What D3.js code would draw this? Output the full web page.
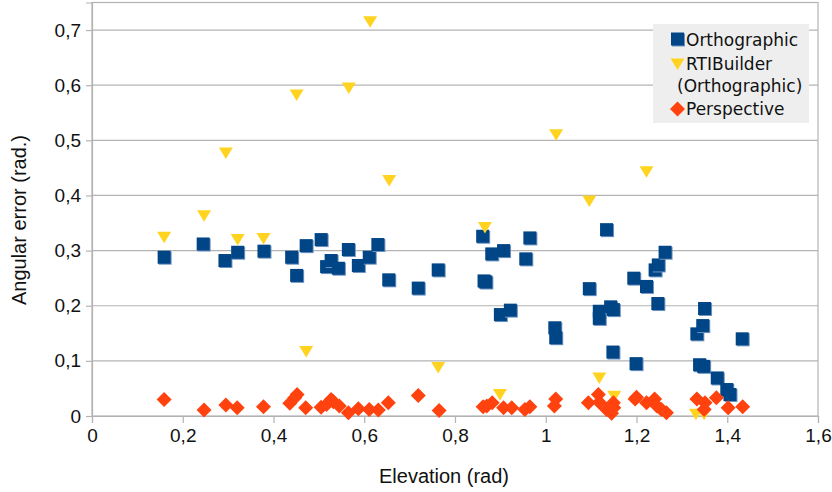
<!DOCTYPE html>
<html>
<head>
<meta charset="utf-8">
<script src="https://cdn.jsdelivr.net/npm/d3@7"></script>
<style>
  body { margin: 0; background: #fff; }
  svg text { font-family: "Liberation Sans", Arial, sans-serif; fill: #111; }
  .legend text { font-family: "DejaVu Sans", sans-serif; }
</style>
</head>
<body>
<div id="chart"></div>
<script>
let width = 832;
let height = 492;
let margin = { top: 2.5, right: 14, bottom: 76, left: 92 };

// Orthographic (squares)
let orthoX = [0.159, 0.245, 0.293, 0.321, 0.379, 0.440, 0.451, 0.472, 0.505, 0.517,
  0.527, 0.543, 0.565, 0.587, 0.611, 0.630, 0.654, 0.719, 0.763, 0.861,
  0.864, 0.868, 0.881, 0.907, 0.956, 0.965, 0.900, 0.922, 1.020, 1.022,
  1.096, 1.118, 1.118, 1.134, 1.143, 1.149, 1.148, 1.194, 1.199, 1.222,
  1.241, 1.248, 1.263, 1.247, 1.333, 1.346, 1.350, 1.339, 1.348, 1.378,
  1.399, 1.406, 1.433];
let orthoY = [0.288, 0.312, 0.282, 0.297, 0.299, 0.288, 0.255, 0.309, 0.320, 0.271,
  0.282, 0.268, 0.302, 0.273, 0.288, 0.311, 0.247, 0.232, 0.265, 0.326,
  0.245, 0.243, 0.294, 0.300, 0.285, 0.323, 0.184, 0.192, 0.160, 0.142,
  0.231, 0.190, 0.177, 0.338, 0.198, 0.193, 0.116, 0.250, 0.095, 0.235,
  0.265, 0.274, 0.297, 0.204, 0.149, 0.164, 0.195, 0.093, 0.090, 0.069,
  0.048, 0.039, 0.140];

// RTIBuilder (Orthographic) (triangles)
let rtiX = [0.159, 0.247, 0.295, 0.321, 0.378, 0.451, 0.472, 0.566, 0.613, 0.655,
  0.763, 0.866, 0.899, 1.023, 1.096, 1.118, 1.151, 1.222, 1.331, 1.349];
let rtiY = [0.324, 0.363, 0.477, 0.320, 0.322, 0.582, 0.117, 0.595, 0.715, 0.427,
  0.088, 0.342, 0.039, 0.510, 0.390, 0.069, 0.036, 0.443, 0.003, 0.003];

// Perspective (diamonds)
let perspX = [0.159, 0.247, 0.295, 0.320, 0.378, 0.436, 0.447, 0.452, 0.471, 0.505,
  0.517, 0.527, 0.532, 0.545, 0.565, 0.587, 0.611, 0.631, 0.653, 0.719,
  0.765, 0.862, 0.870, 0.882, 0.907, 0.925, 0.954, 0.965, 1.019, 1.022,
  1.094, 1.116, 1.118, 1.134, 1.145, 1.149, 1.150, 1.197, 1.200, 1.222,
  1.240, 1.245, 1.255, 1.266, 1.333, 1.351, 1.349, 1.376, 1.402, 1.434];
let perspY = [0.030, 0.011, 0.020, 0.015, 0.017, 0.023, 0.033, 0.039, 0.015, 0.016,
  0.021, 0.030, 0.026, 0.018, 0.006, 0.013, 0.012, 0.011, 0.024, 0.037,
  0.010, 0.017, 0.018, 0.024, 0.015, 0.015, 0.012, 0.017, 0.018, 0.031,
  0.024, 0.039, 0.025, 0.012, 0.005, 0.024, 0.015, 0.031, 0.034, 0.024,
  0.031, 0.018, 0.012, 0.006, 0.031, 0.024, 0.012, 0.033, 0.015, 0.017];

let xTicks = [0, 0.2, 0.4, 0.6, 0.8, 1, 1.2, 1.4, 1.6];
let yTicks = [0, 0.1, 0.2, 0.3, 0.4, 0.5, 0.6, 0.7];

let colors = { Orthographic: "#004586", RTIBuilder: "#ffd320", Perspective: "#ff420e" };
let fmt = d => String(d).replace(".", ",");

let svg = d3.select("#chart")
  .append("svg")
  .attr("width", width)
  .attr("height", height);

let x = d3.scaleLinear()
  .domain([0, 1.6])
  .range([margin.left, width - margin.right]);

let y = d3.scaleLinear()
  .domain([0, 0.75])
  .range([height - margin.bottom, margin.top]);

// grid
svg.append("g")
  .selectAll("line")
  .data(yTicks.slice(1))
  .enter()
  .append("line")
  .attr("x1", margin.left)
  .attr("x2", width - margin.right)
  .attr("y1", d => y(d))
  .attr("y2", d => y(d))
  .attr("stroke", "#b3b3b3")
  .attr("stroke-width", 1.2);

// frame
svg.append("rect")
  .attr("x", margin.left)
  .attr("y", margin.top)
  .attr("width", width - margin.right - margin.left)
  .attr("height", height - margin.bottom - margin.top)
  .attr("fill", "none")
  .attr("stroke", "#b3b3b3")
  .attr("stroke-width", 1.2);

let xAxis = svg.append("g")
  .attr("transform", `translate(0, ${height - margin.bottom})`)
  .call(d3.axisBottom(x).tickValues(xTicks).tickFormat(fmt).tickSize(7).tickPadding(6));

let yAxis = svg.append("g")
  .attr("transform", `translate(${margin.left}, 0)`)
  .call(d3.axisLeft(y).tickValues(yTicks).tickFormat(fmt).tickSize(6).tickPadding(5));

[xAxis, yAxis].forEach(a => {
  a.select(".domain").attr("stroke", "#b3b3b3").attr("stroke-width", 1.2);
  a.selectAll(".tick line").attr("stroke", "#b3b3b3").attr("stroke-width", 1.2);
  a.selectAll(".tick text")
    .attr("font-size", 19)
    .attr("font-family", "Liberation Sans, Arial, sans-serif")
    .attr("fill", "#111");
});

svg.append("text")
  .attr("x", 444)
  .attr("y", 483)
  .attr("text-anchor", "middle")
  .attr("font-size", 20)
  .text("Elevation (rad)");

svg.append("text")
  .attr("transform", "translate(26, 220) rotate(-90)")
  .attr("text-anchor", "middle")
  .attr("font-size", 20)
  .text("Angular error (rad.)");

// markers
let sq = 13;
function drawSquare(g, cx, cy) {
  g.append("rect")
    .attr("x", cx - sq / 2 + 1)
    .attr("y", cy - sq / 2 + 1)
    .attr("width", sq)
    .attr("height", sq)
    .attr("fill", "#6f93c0");
  g.append("rect")
    .attr("x", cx - sq / 2)
    .attr("y", cy - sq / 2)
    .attr("width", sq)
    .attr("height", sq)
    .attr("fill", colors.Orthographic);
}
function triPath(cx, cy) {
  return `M${cx - 7},${cy - 5.5}L${cx + 7},${cy - 5.5}L${cx},${cy + 6}Z`;
}
function diaPath(cx, cy) {
  return `M${cx},${cy - 7.5}L${cx + 7.5},${cy}L${cx},${cy + 7.5}L${cx - 7.5},${cy}Z`;
}

let ortho = orthoX.map((v, i) => ({ x: v, y: orthoY[i] }));
let rti = rtiX.map((v, i) => ({ x: v, y: rtiY[i] }));
let persp = perspX.map((v, i) => ({ x: v, y: perspY[i] }));

let gOrtho = svg.append("g");
ortho.forEach(d => drawSquare(gOrtho, x(d.x), y(d.y)));

svg.append("g")
  .selectAll("path")
  .data(rti)
  .enter()
  .append("path")
  .attr("d", d => triPath(x(d.x), y(d.y)))
  .attr("fill", colors.RTIBuilder);

svg.append("g")
  .selectAll("path")
  .data(persp)
  .enter()
  .append("path")
  .attr("d", d => diaPath(x(d.x), y(d.y)))
  .attr("fill", colors.Perspective);

// legend
let legend = svg.append("g").attr("class", "legend");
legend.append("rect")
  .attr("x", 653)
  .attr("y", 24)
  .attr("width", 156)
  .attr("height", 99)
  .attr("fill", "#eeeeee");

drawSquare(legend, 677.5, 39);
legend.append("path").attr("d", triPath(677.5, 64)).attr("fill", colors.RTIBuilder);
legend.append("path").attr("d", diaPath(677.5, 109)).attr("fill", colors.Perspective);

let legendText = [
  { t: "Orthographic", x: 686, y: 46 },
  { t: "RTIBuilder", x: 686, y: 70 },
  { t: "(Orthographic)", x: 677, y: 92 },
  { t: "Perspective", x: 686, y: 115 }
];
legend.selectAll("text.lbl")
  .data(legendText)
  .enter()
  .append("text")
  .attr("class", "lbl")
  .attr("x", d => d.x)
  .attr("y", d => d.y)
  .attr("font-size", 17)
  .text(d => d.t);
</script>
</body>
</html>
